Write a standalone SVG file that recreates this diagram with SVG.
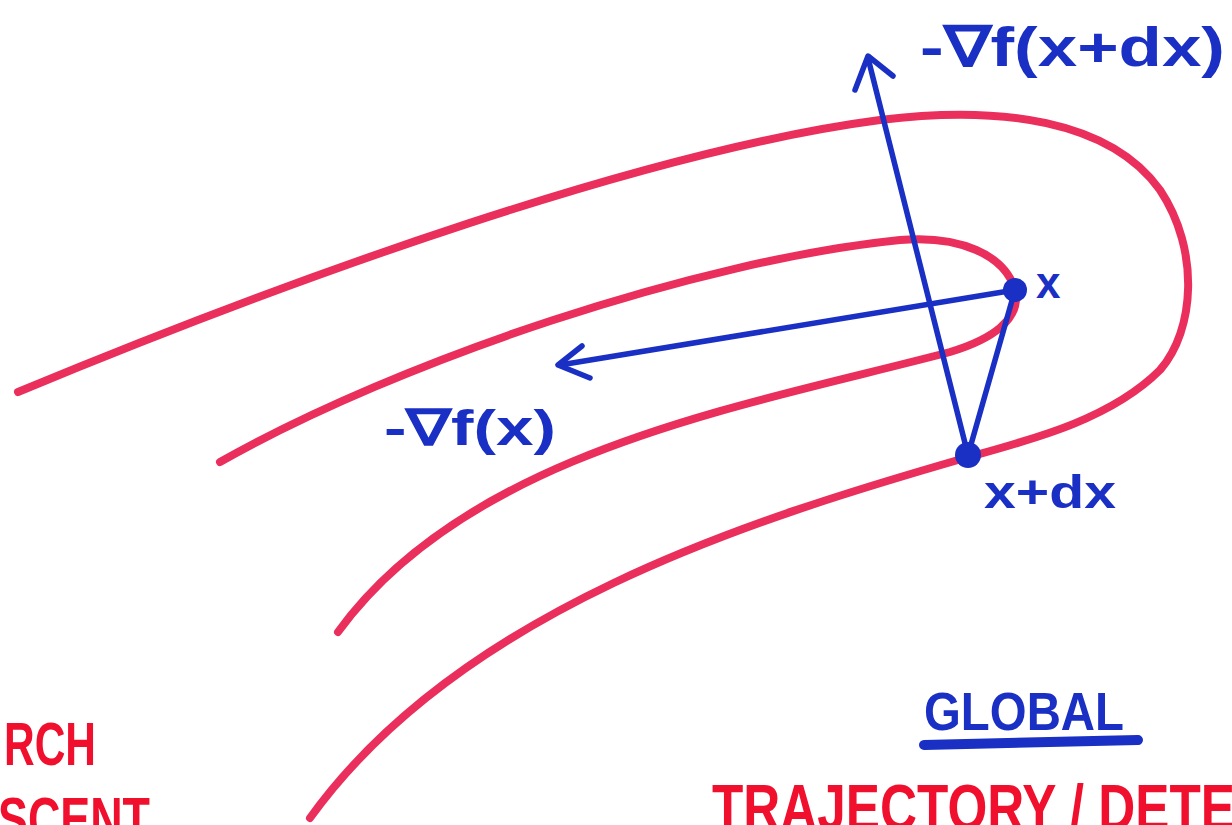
<svg xmlns="http://www.w3.org/2000/svg" width="1232" height="825" viewBox="0 0 1232 825">
<style>
.red{fill:none;stroke:#ea2f5c;stroke-width:8;stroke-linecap:round;stroke-linejoin:round}
.blue{fill:none;stroke:#1a2fc4;stroke-width:5.5;stroke-linecap:round;stroke-linejoin:round}
.bt{fill:#1a2fc4;font-family:"Liberation Sans",Arial,sans-serif;font-weight:bold}
.rt{fill:#f0102e;font-family:"Liberation Sans",Arial,sans-serif;font-weight:bold}
</style>
<rect width="1232" height="825" fill="#ffffff"/>
<g id="contours">
<path class="red" d="M18,392 C300,275 650,150 880,120 C1000,105 1110,120 1160,190 C1200,250 1195,330 1160,370 C1110,420 1030,440 965,458 C750,520 460,610 310,818"/>
<path class="red" d="M220,462 C400,360 700,260 900,240 C960,235 1005,255 1015,290 C1022,320 990,340 950,352 C750,405 470,450 338,632"/>
</g>
<g id="connectors">
<path class="blue" d="M1015,290 L560,365"/>
<path class="blue" d="M582,346 L558,365 L590,378"/>
<path class="blue" d="M1015,290 L968,455" stroke-width="7"/>
<path class="blue" d="M968,455 L868,58"/>
<path class="blue" d="M855,90 L868,56 L893,76"/>
</g>
<g id="node-x">
<circle cx="1015" cy="290" r="12" fill="#1a2fc4"/>
<text class="bt" x="1036" y="298" font-size="44">x</text>
</g>
<g id="node-xdx">
<circle cx="968" cy="455" r="13" fill="#1a2fc4"/>
<text class="bt" x="984" y="508" font-size="46" textLength="132" lengthAdjust="spacingAndGlyphs">x+dx</text>
</g>
<g id="label-grad-x">
<text class="bt" x="384" y="445" font-size="50" textLength="172" lengthAdjust="spacingAndGlyphs">-∇f(x)</text>
</g>
<g id="label-grad-xdx">
<text class="bt" x="920" y="66" font-size="56" textLength="305" lengthAdjust="spacingAndGlyphs">-∇f(x+dx)</text>
</g>
<g id="label-global">
<text class="bt" x="924" y="730" font-size="54" textLength="200" lengthAdjust="spacingAndGlyphs">GLOBAL</text>
<path d="M924,745 L1138,740" fill="none" stroke="#1a2fc4" stroke-width="10" stroke-linecap="round"/>
</g>
<g id="label-left">
<text class="rt" x="4" y="765" font-size="62" textLength="92" lengthAdjust="spacingAndGlyphs">RCH</text>
<text class="rt" x="-2" y="840" font-size="62" textLength="152" lengthAdjust="spacingAndGlyphs">SCENT</text>
</g>
<g id="label-right">
<text class="rt" x="712" y="830" font-size="64" textLength="560" lengthAdjust="spacingAndGlyphs">TRAJECTORY / DETER</text>
</g>
</svg>
